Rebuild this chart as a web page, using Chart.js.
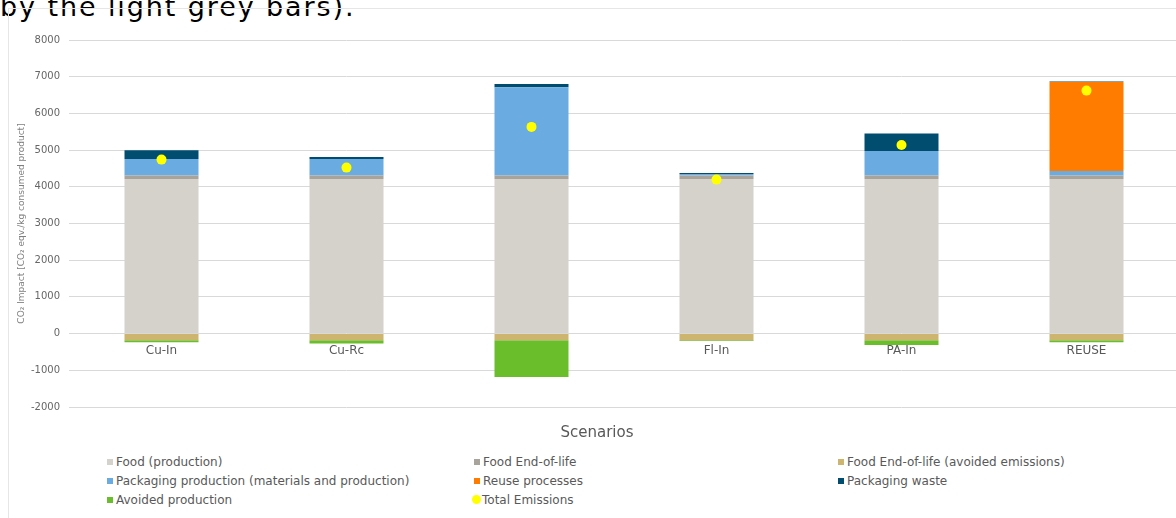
<!DOCTYPE html>
<html>
<head>
<meta charset="utf-8">
<title>CO2 impact by scenario</title>
<script src="https://cdn.jsdelivr.net/npm/chart.js@4.4.1/dist/chart.umd.min.js"></script>
<style>
    html, body {
        margin: 0;
        padding: 0;
        width: 1176px;
        height: 518px;
        overflow: hidden;
        background: #ffffff;
        font-family: 'DejaVu Sans', Verdana, sans-serif;
    }
    .caption {
        position: absolute;
        left: 0;
        top: -7px;
        font-family: 'DejaVu Sans', Verdana, sans-serif;
        font-size: 27px;
        line-height: 27px;
        letter-spacing: 1.9px;
        color: #000000;
        white-space: nowrap;
    }
    .frame {
        position: absolute;
        left: 8px;
        top: 8px;
        width: 1200px;
        height: 600px;
        border-left: 1px solid #e6e6e6;
        border-top: 1px solid #e6e6e6;
    }
    .chart-box {
        position: absolute;
        left: 0;
        top: 0;
        width: 1184px;
        height: 450px;
    }
    #legend {
        position: absolute;
        left: 107px;
        top: 452px;
        display: grid;
        grid-template-columns: 367px 364px 300px;
        grid-auto-rows: 19px;
        font-size: 12px;
        color: #595959;
    }
    .legend-item {
        display: flex;
        align-items: center;
        white-space: nowrap;
    }
    .legend-item .swatch {
        width: 6px;
        height: 6px;
        margin-right: 3px;
    }
    .legend-item .dot {
        width: 9px;
        height: 9px;
        border-radius: 50%;
        margin-right: 1px;
        margin-left: -2px;
    }
</style>
</head>
<body>
<div class="caption">by the light grey bars).</div>
<div class="frame"></div>
<div class="chart-box"><canvas id="impact-chart"></canvas></div>
<div id="legend"></div>

<script>
// Scenarios and stacked contributions (kg CO2 eqv. per kg consumed product)
const scenarios = ['Cu-In', 'Cu-Rc', 'Al-In', 'Fl-In', 'PA-In', 'REUSE'];
const foodProduction = [4215, 4215, 4215, 4215, 4215, 4215];
const foodEndOfLife = [90, 90, 90, 90, 90, 90];
const packagingProduction = [455, 455, 2407, 45, 673, 128];
const reuseProcesses = [0, 0, 0, 0, 0, 2423];
const packagingWaste = [235, 55, 91, 28, 472, 10];
const foodEndOfLifeAvoided = [-180, -180, -180, -180, -180, -180];
const avoidedProduction = [-57, -90, -1000, -20, -130, -57];
const totalEmissions = [4741, 4523, 5632, 4196, 5141, 6621];

const yMin = -2000;
const yMax = 8000;

const textColor = '#595959';

function barSet(label, data, color) {
    return {
        type: 'bar',
        label: label,
        data: data,
        backgroundColor: color,
        borderWidth: 0,
        barPercentage: 0.4,
        categoryPercentage: 1.0
    };
}

const datasets = [
    barSet('Food (production)', foodProduction, '#d5d2cb'),
    barSet('Food End-of-life', foodEndOfLife, '#a8a39b'),
    barSet('Packaging production (materials and production)', packagingProduction, '#6aabe1'),
    barSet('Reuse processes', reuseProcesses, '#ff7c00'),
    barSet('Packaging waste', packagingWaste, '#004d6f'),
    barSet('Food End-of-life (avoided emissions)', foodEndOfLifeAvoided, '#cdb56f'),
    barSet('Avoided production', avoidedProduction, '#6abd2b'),
    {
        type: 'line',
        label: 'Total Emissions',
        data: totalEmissions,
        showLine: false,
        pointRadius: 5,
        pointHoverRadius: 5,
        pointBackgroundColor: '#ffff00',
        pointBorderWidth: 0,
        backgroundColor: '#ffff00',
        order: -1
    }
];

// Legend order as laid out in three columns
const legendOrder = [
    'Food (production)', 'Food End-of-life', 'Food End-of-life (avoided emissions)',
    'Packaging production (materials and production)', 'Reuse processes', 'Packaging waste',
    'Avoided production', 'Total Emissions'
];

const ctx = document.getElementById('impact-chart').getContext('2d');
const impactChart = new Chart(ctx, {
    data: {
        labels: scenarios,
        datasets: datasets
    },
    options: {
        responsive: true,
        maintainAspectRatio: false,
        animation: false,
        layout: {
            padding: { left: 12, right: 2, top: 40, bottom: 8 }
        },
        plugins: {
            legend: { display: false },
            tooltip: { enabled: false },
            title: {
                display: true,
                position: 'bottom',
                text: 'Scenarios',
                color: textColor,
                font: { family: 'DejaVu Sans', size: 15, weight: 'normal' },
                padding: { top: 17, bottom: 0 }
            }
        },
        scales: {
            x: {
                stacked: true,
                position: { y: 0 },
                z: 1,
                grid: { display: false },
                border: { display: false },
                ticks: {
                    color: textColor,
                    font: { family: 'DejaVu Sans', size: 12 },
                    padding: 2,
                    maxRotation: 0
                }
            },
            y: {
                stacked: true,
                min: yMin,
                max: yMax,
                afterFit: function(scale) {
                    scale.width = 57;
                },
                grid: {
                    drawTicks: false,
                    color: function(c) {
                        return c.tick && c.tick.value % 1000 === 0 ? '#d9d9d9' : '#f1f1f1';
                    }
                },
                border: { display: false },
                ticks: {
                    stepSize: 200,
                    autoSkip: false,
                    maxTicksLimit: 100,
                    padding: 9,
                    color: '#666666',
                    font: { family: 'DejaVu Sans', size: 10 },
                    callback: function(value) {
                        return value % 1000 === 0 ? String(value) : null;
                    }
                },
                title: {
                    display: true,
                    text: 'CO\u2082 Impact [CO\u2082 eqv./kg consumed product]',
                    color: '#7f7f7f',
                    font: { family: 'DejaVu Sans', size: 9 },
                    padding: { top: 4, bottom: 0 }
                }
            }
        }
    }
});

// Build the HTML legend from the datasets
const legendEl = document.getElementById('legend');
legendOrder.forEach(function(name) {
    const ds = datasets.find(d => d.label === name);
    const item = document.createElement('div');
    item.className = 'legend-item';
    const mark = document.createElement('span');
    mark.className = ds.type === 'line' ? 'dot' : 'swatch';
    mark.style.background = ds.backgroundColor;
    const text = document.createElement('span');
    text.textContent = ds.label;
    item.appendChild(mark);
    item.appendChild(text);
    legendEl.appendChild(item);
});
</script>
</body>
</html>
